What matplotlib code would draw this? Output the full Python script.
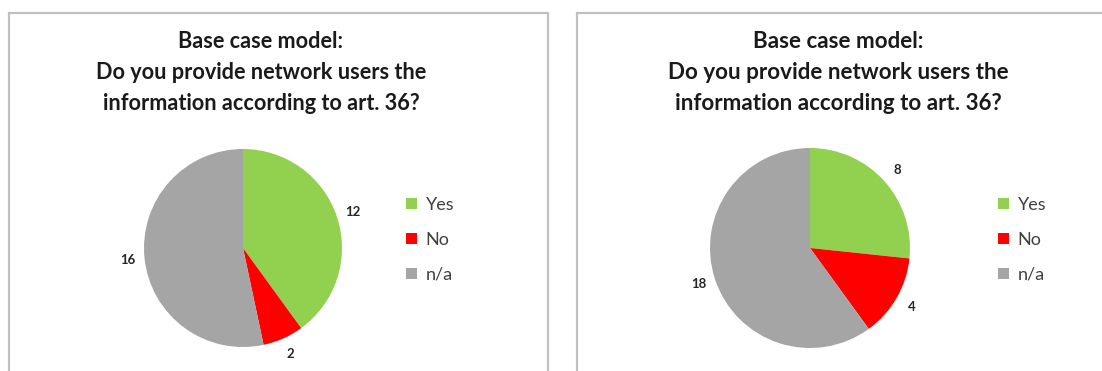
import matplotlib
matplotlib.use("Agg")
import matplotlib.pyplot as plt
from matplotlib.patches import Rectangle

categories = ["Yes", "No", "n/a"]
left_values = [12, 2, 16]
right_values = [8, 4, 18]
title_text = "Base case model:\nDo you provide network users the\ninformation according to art. 36?"
colors = ["#92d050", "#ff0000", "#a5a5a5"]

W, H = 1102, 371
fig = plt.figure(figsize=(W / 100, H / 100), dpi=100)
fig.patch.set_facecolor("white")
FONT = "Lato"


def px_axes(x0, y0, x1, y1):
    return fig.add_axes([x0 / W, (H - y1) / H, (x1 - x0) / W, (y1 - y0) / H])


def panel(box, pie_box, title_x, legend_x, values, tsize):
    bx0, by0, bx1 = box
    fig.add_artist(Rectangle((bx0 / W, -0.2), (bx1 - bx0) / W, 0.2 + (H - by0) / H,
                             transform=fig.transFigure, fill=False,
                             edgecolor="#c0c0c0", linewidth=1.6, clip_on=False))
    fig.text(title_x / W, (H - 31) / H, title_text, ha="center", va="top",
             fontsize=tsize, fontweight="bold", family=FONT, color="#1a1a1a",
             linespacing=1.6)
    ax = px_axes(*pie_box)
    total = sum(values)
    wedges, _, autotexts = ax.pie(values, colors=colors, startangle=90, counterclock=False,
                                  autopct=lambda p: f"{round(p * total / 100)}",
                                  pctdistance=1.17, wedgeprops=dict(linewidth=0))
    for t in autotexts:
        t.set_fontsize(9.5)
        t.set_fontweight("bold")
        t.set_family(FONT)
        t.set_color("#262626")
    ax.set_xlim(-1, 1)
    ax.set_ylim(-1, 1)
    ax.set_aspect("equal")
    ax.axis("off")
    fig.legend(wedges, categories, loc="upper left",
               bbox_to_anchor=(legend_x / W, (H - 197) / H),
               frameon=False, handlelength=0.6, handleheight=0.6,
               handletextpad=0.5, labelspacing=1.05, borderpad=0, borderaxespad=0,
               prop=dict(family=FONT, size=13), labelcolor="#404040")


panel((9, 13, 548), (144, 149, 342, 347), 261, 406, left_values, 15.6)
panel((577, 13, 1120), (710, 148, 910, 348), 838, 998, right_values, 16.1)

fig.savefig("out.png", dpi=100)
